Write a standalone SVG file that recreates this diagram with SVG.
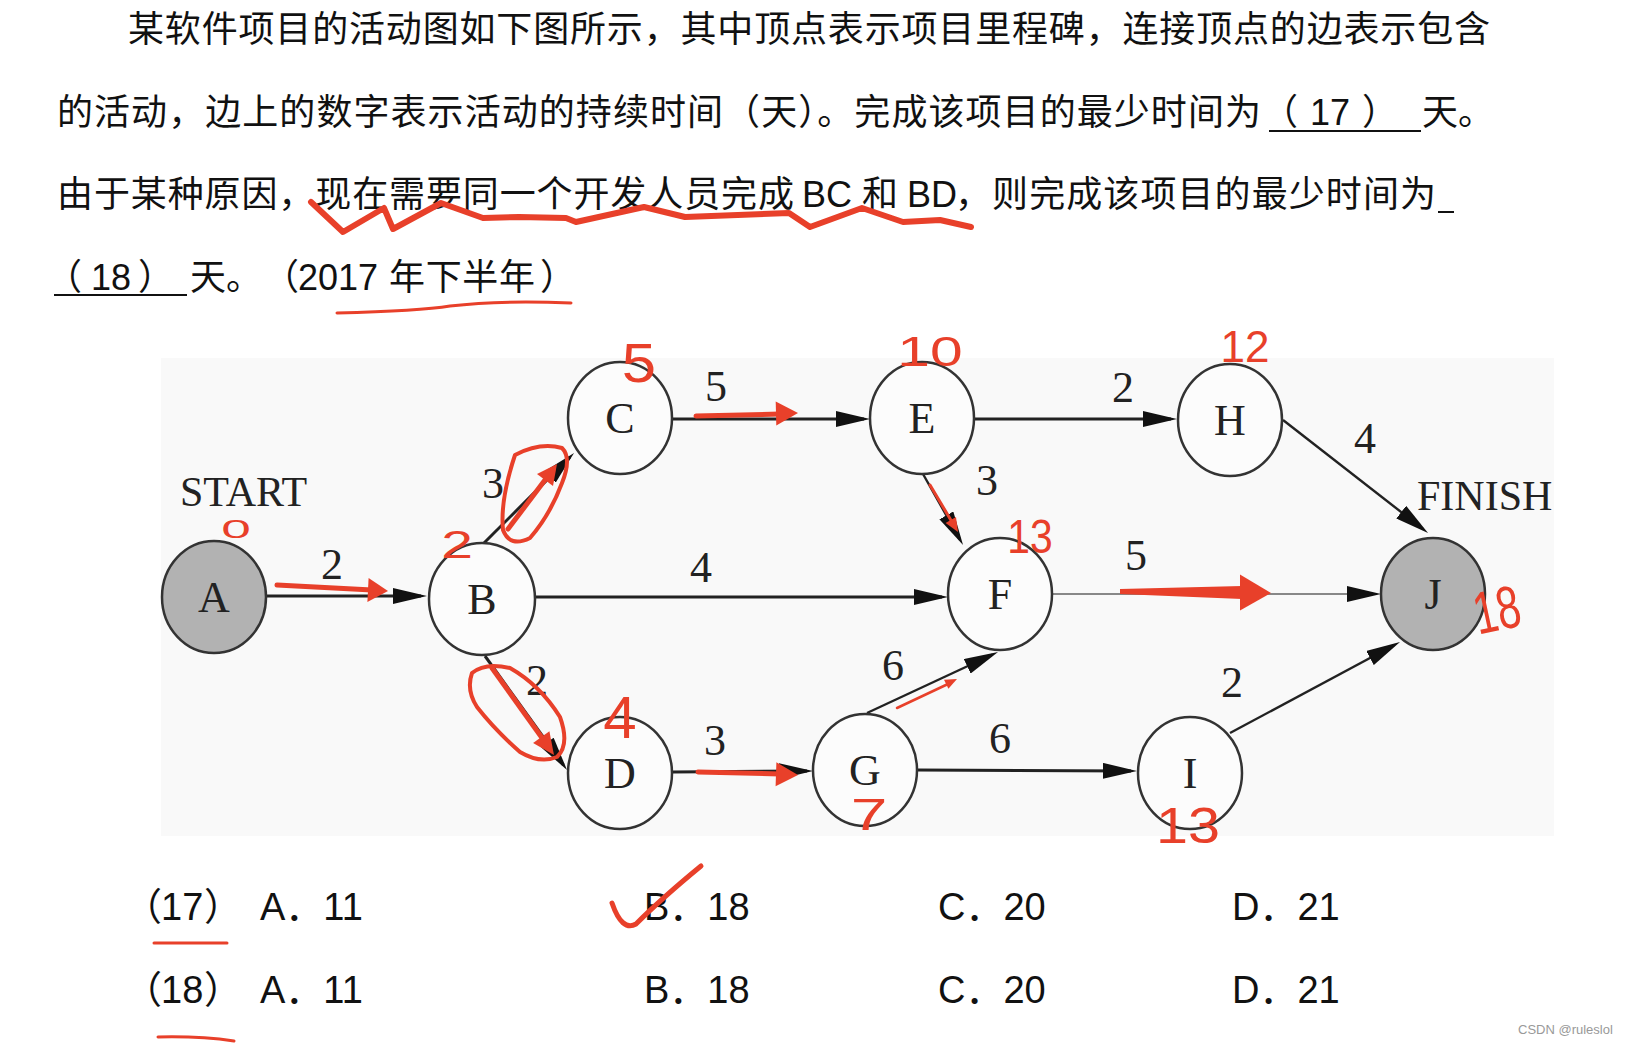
<svg xmlns="http://www.w3.org/2000/svg" width="1628" height="1044" viewBox="0 0 1628 1044">
<style>
.t{font-family:"Liberation Sans","Noto Sans CJK SC",sans-serif;font-size:36px;fill:#111}
.o{font-family:"Liberation Sans","Noto Sans CJK SC",sans-serif;font-size:38px;fill:#111}
.nd{fill:#fcfcfc;stroke:#333;stroke-width:2.5}
.gr{fill:#b2b2b2;stroke:#333;stroke-width:2.5}
.nl{font-family:"Liberation Serif","Times New Roman",serif;font-size:44px;fill:#222;text-anchor:middle}
.el{font-family:"Liberation Serif","Times New Roman",serif;font-size:44px;fill:#222;text-anchor:middle}
.big{font-family:"Liberation Serif","Times New Roman",serif;font-size:42px;fill:#222}
.e{stroke:#222;stroke-width:3;fill:none;marker-end:url(#ah)}
.e2{stroke:#222;stroke-width:2.4;fill:none;marker-end:url(#ah)}
.e3{stroke:#888;stroke-width:2.2;fill:none;marker-end:url(#ah)}
.rs{stroke:#e8402a;fill:none;stroke-linecap:round;stroke-linejoin:round}
.rf{fill:#e8402a}
.rt{font-family:"Liberation Sans",sans-serif;fill:#e8402a;text-anchor:middle}
.ul{stroke:#111;stroke-width:2}
</style>
<defs>
<marker id="ah" markerUnits="userSpaceOnUse" markerWidth="34" markerHeight="16" refX="28" refY="8" orient="auto">
<path d="M0,0 L34,8 L0,16 z" fill="#111"/>
</marker>
</defs>
<rect width="1628" height="1044" fill="#fff"/>

<g id="question-text">
<text class="t" x="128" y="42" textLength="1362" lengthAdjust="spacing">某软件项目的活动图如下图所示，其中顶点表示项目里程碑，连接顶点的边表示包含</text>
<text class="t" x="57" y="125" textLength="1204" lengthAdjust="spacing">的活动，边上的数字表示活动的持续时间（天）。完成该项目的最少时间为</text>
<text class="t" x="1262" y="125">（</text>
<text class="t" x="1310" y="125">17</text>
<text class="t" x="1362" y="125">）</text>
<text class="t" x="1422" y="125">天。</text>
<line class="ul" x1="1269" y1="131" x2="1421" y2="131"/>
<text class="t" x="57" y="207" textLength="737" lengthAdjust="spacing">由于某种原因，现在需要同一个开发人员完成</text>
<text class="t" x="802" y="207">BC</text>
<text class="t" x="862" y="207">和</text>
<text class="t" x="907" y="207">BD</text>
<text class="t" x="955" y="207" textLength="481" lengthAdjust="spacing">，则完成该项目的最少时间为</text>
<line class="ul" x1="1438" y1="212" x2="1454" y2="212"/>
<text class="t" x="46" y="290">（</text>
<text class="t" x="91" y="290">18</text>
<text class="t" x="138" y="290">）</text>
<line class="ul" x1="54" y1="295" x2="187" y2="295"/>
<text class="t" x="190" y="290">天。</text>
<text class="t" x="263" y="290">（</text>
<text class="t" x="298" y="290">2017</text>
<text class="t" x="389" y="290" textLength="146" lengthAdjust="spacing">年下半年</text>
<text class="t" x="540" y="290">）</text>
</g>

<rect id="graph-panel" x="161" y="358" width="1393" height="478" fill="#f9f9f9"/>

<g id="connectors">
<line class="e" x1="266" y1="596" x2="421" y2="596"/>
<line class="e" x1="484" y1="543" x2="569.8" y2="457.2"/>
<line class="e" x1="535" y1="597" x2="942" y2="597"/>
<line class="e" x1="485" y1="656" x2="563.5" y2="765.1"/>
<line class="e" x1="673" y1="419" x2="864" y2="419"/>
<line class="e" x1="975" y1="419" x2="1171" y2="419"/>
<line class="e2" x1="923" y1="474" x2="960.1" y2="539.8"/>
<line class="e3" x1="1053" y1="594" x2="1375" y2="594"/>
<line class="e2" x1="1283" y1="420" x2="1423.3" y2="529.3"/>
<line class="e" x1="673" y1="772" x2="807" y2="771"/>
<line class="e2" x1="867" y1="713" x2="992.6" y2="654.5"/>
<line class="e" x1="918" y1="770" x2="1131" y2="771"/>
<line class="e2" x1="1230" y1="733" x2="1394.7" y2="644.8"/>
<text class="el" x="332" y="579">2</text>
<text class="el" x="493" y="498">3</text>
<text class="el" x="701" y="582">4</text>
<text class="el" x="537" y="695">2</text>
<text class="el" x="716" y="401">5</text>
<text class="el" x="1123" y="402">2</text>
<text class="el" x="987" y="495">3</text>
<text class="el" x="1136" y="570">5</text>
<text class="el" x="1365" y="453">4</text>
<text class="el" x="715" y="755">3</text>
<text class="el" x="893" y="680">6</text>
<text class="el" x="1000" y="753">6</text>
<text class="el" x="1232" y="697">2</text>
</g>

<text class="big" x="180" y="506">START</text>
<text class="big" x="1417" y="510">FINISH</text>

<g id="node-A"><ellipse class="gr" cx="214" cy="597" rx="52" ry="56"/><text class="nl" x="214" y="612">A</text></g>
<g id="node-B"><ellipse class="nd" cx="482" cy="599" rx="53" ry="56"/><text class="nl" x="482" y="614">B</text></g>
<g id="node-C"><ellipse class="nd" cx="620" cy="418" rx="52" ry="56"/><text class="nl" x="620" y="433">C</text></g>
<g id="node-D"><ellipse class="nd" cx="620" cy="773" rx="52" ry="56"/><text class="nl" x="620" y="788">D</text></g>
<g id="node-E"><ellipse class="nd" cx="922" cy="418" rx="52" ry="56"/><text class="nl" x="922" y="433">E</text></g>
<g id="node-F"><ellipse class="nd" cx="1000" cy="594" rx="52" ry="56"/><text class="nl" x="1000" y="609">F</text></g>
<g id="node-G"><ellipse class="nd" cx="865" cy="770" rx="52" ry="56"/><text class="nl" x="865" y="785">G</text></g>
<g id="node-H"><ellipse class="nd" cx="1230" cy="420" rx="52" ry="56"/><text class="nl" x="1230" y="435">H</text></g>
<g id="node-I"><ellipse class="nd" cx="1190" cy="773" rx="52" ry="56"/><text class="nl" x="1190" y="788">I</text></g>
<g id="node-J"><ellipse class="gr" cx="1433" cy="594" rx="52" ry="56"/><text class="nl" x="1433" y="609">J</text></g>

<g id="options">
<text class="o" x="124" y="920">（</text>
<text class="o" x="161" y="920">17</text>
<text class="o" x="204" y="920">）</text>
<text class="o" x="260" y="920">A．11</text>
<text class="o" x="644" y="920">B．18</text>
<text class="o" x="938" y="920">C．20</text>
<text class="o" x="1232" y="920">D．21</text>
<text class="o" x="124" y="1003">（</text>
<text class="o" x="161" y="1003">18</text>
<text class="o" x="204" y="1003">）</text>
<text class="o" x="260" y="1003">A．11</text>
<text class="o" x="644" y="1003">B．18</text>
<text class="o" x="938" y="1003">C．20</text>
<text class="o" x="1232" y="1003">D．21</text>
</g>

<text x="1518" y="1034" font-family="Liberation Sans, sans-serif" font-size="13" fill="#999">CSDN @ruleslol</text>

<g id="annotations">
<path class="rs" stroke-width="6" d="M311,202 L343,232 L384,208 L393,229 L441,203 L483,218 L519,217 L566,218 L576,222 L644,207 L685,217 L789,213 L810,227 L862,208 L903,222 L940,220 L971,227"/>
<path class="rs" stroke-width="3" d="M337,313 Q420,311 450,306 Q500,300 571,303"/>
<line class="rs" stroke-width="3" x1="154" y1="943" x2="227" y2="943"/>
<path class="rs" stroke-width="3" d="M158,1037 Q200,1036 234,1041"/>
<path class="rs" stroke-width="5" d="M612,903 Q622,932 636,924 Q662,898 701,866"/>

<line class="rs" stroke-width="5" x1="277" y1="585" x2="372" y2="590"/>
<polygon class="rf" points="368.6,577.9 388,591 367.4,601.9"/>
<line class="rs" stroke-width="5" x1="508" y1="529" x2="548" y2="476"/>
<polygon class="rf" points="553,486 557,464 537,474"/>
<path class="rs" stroke-width="4" d="M515,455 Q540,442 562,448 Q572,458 562,483 Q550,515 530,538 Q510,548 503,530 Q500,500 515,455 Z"/>
<line class="rs" stroke-width="5" x1="492" y1="668" x2="545" y2="742"/>
<polygon class="rf" points="533.1,742.9 554,755 549.4,731.3"/>
<path class="rs" stroke-width="4" d="M472,673 Q485,662 510,668 Q540,685 560,717 Q570,745 557,757 Q540,764 520,752 Q495,730 477,707 Q466,690 472,673 Z"/>
<line class="rs" stroke-width="5" x1="696" y1="416" x2="780" y2="414"/>
<polygon class="rf" points="776.3,425.6 798,413 775.7,401.6"/>
<line class="rs" stroke-width="3" x1="930" y1="485" x2="952" y2="522"/>
<polygon class="rf" points="945.6,523.1 958,532 956,516.9"/>
<line class="rs" stroke-width="2.5" x1="897" y1="708" x2="948" y2="684"/>
<polygon class="rf" points="948.4,688.7 957,679 944,679.7"/>
<line class="rs" stroke-width="5" x1="698" y1="772" x2="780" y2="774"/>
<polygon class="rf" points="775.6,786.3 798,775 776.4,762.3"/>
<polygon class="rf" points="1120,589 1242,586 1242,599 1120,594"/>
<polygon class="rf" points="1240,574.6 1271,593 1240,610.6"/>

<text class="rt" font-size="28" transform="translate(236,538) scale(1.9,0.95)">0</text>
<text class="rt" font-size="38" transform="translate(457,558) scale(1.5,1)">2</text>
<text class="rt" font-size="56" transform="translate(639,382) scale(1.1,1)">5</text>
<text class="rt" font-size="42" transform="translate(930,366) scale(1.4,1)">10</text>
<text class="rt" font-size="44" x="1245" y="362">12</text>
<text class="rt" font-size="48" transform="translate(1030,553) scale(0.85,1)">13</text>
<text class="rt" font-size="60" x="620" y="738">4</text>
<text class="rt" font-size="44" transform="translate(869,830) scale(1.5,1)">7</text>
<text class="rt" font-size="50" transform="translate(1188,843) scale(1.15,1)">13</text>
<text class="rt" font-size="60" transform="translate(1501,630) rotate(-12) scale(0.7,1)">18</text>
</g>
</svg>
